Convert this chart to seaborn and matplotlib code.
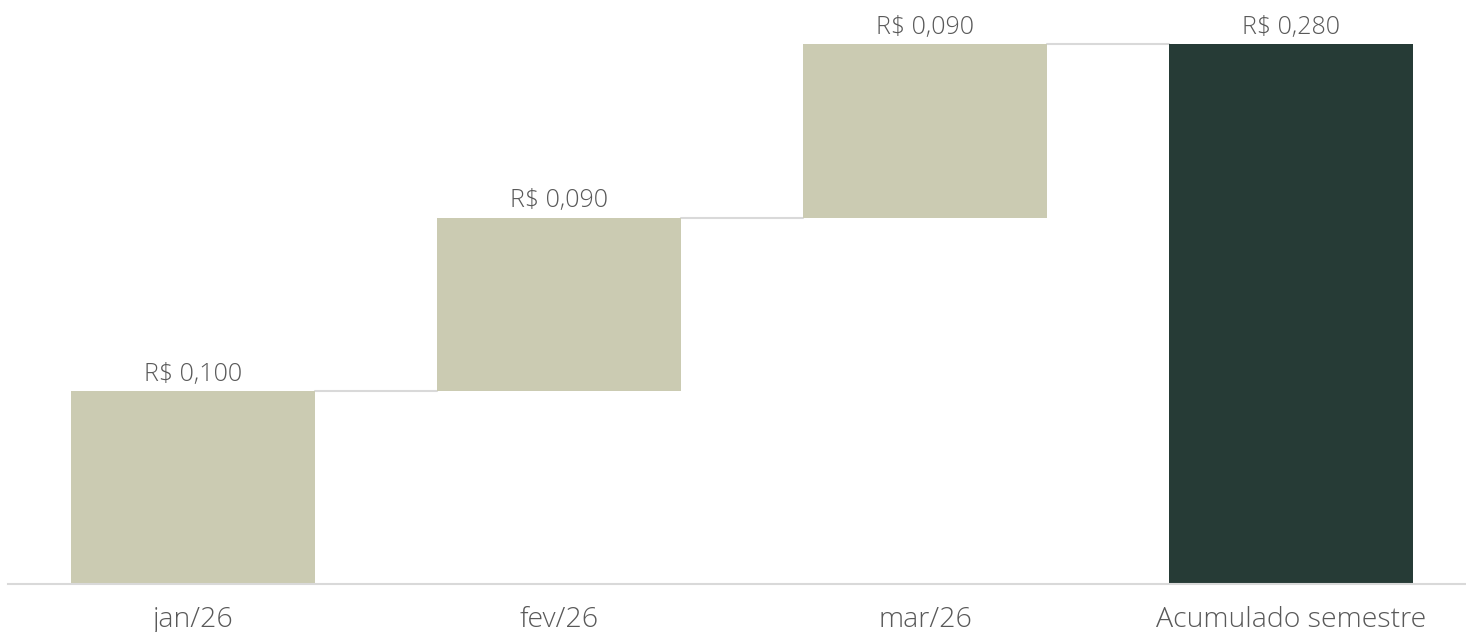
import numpy as np
import pandas as pd
import matplotlib
matplotlib.use('Agg')
import matplotlib.pyplot as plt
import seaborn as sns

# dados
categorias = ['jan/26', 'fev/26', 'mar/26', 'Acumulado semestre']
valores = [0.100, 0.090, 0.090]
total = sum(valores)

sns.set_style('white')
plt.rcParams['font.family'] = ['Open Sans', 'DejaVu Sans']

alturas = valores + [total]
bases = list(np.concatenate([[0], np.cumsum(valores)[:-1]])) + [0]
topos = [b + h for b, h in zip(bases, alturas)]

df = pd.DataFrame({'cat': categorias, 'valor': alturas})

cor_claro = '#CBCBB2'
cor_escuro = '#263B36'
cor_texto = '#595959'
cor_linha = '#D9D9D9'

fig = plt.figure(figsize=(14.66, 6.32), dpi=100)
ax = fig.add_axes([8 / 1466, 48 / 632, 1458 / 1466, 578.6 / 632])

sns.barplot(data=df, x='cat', y='valor', ax=ax, width=0.667,
            palette=[cor_claro] * 3 + [cor_escuro], hue='cat', legend=False,
            saturation=1, errorbar=None, linewidth=0)

# desloca as barras para formar a cascata
for p, b in zip(ax.patches, bases):
    p.set_y(b)

# rótulos
for i, (t, h) in enumerate(zip(topos, alturas)):
    rot = f'R$ {h:.3f}'.replace('.', ',')
    ax.annotate(rot, (i, t), xytext=(0, 3), textcoords='offset points',
                ha='center', va='bottom', fontsize=18, color=cor_texto,
                fontweight='light')

# conectores
larg = 0.667
for i in range(len(topos) - 1):
    ax.plot([i + larg / 2, i + 1 - larg / 2], [topos[i], topos[i]],
            color=cor_linha, lw=1.5, zorder=0)

ax.set_xlim(-0.505, 3.478)
ax.set_ylim(0, 0.30)
ax.set_xlabel('')
ax.set_ylabel('')
ax.set_yticks([])
ax.tick_params(axis='x', length=0, pad=16, labelsize=20.5, labelcolor=cor_texto)
for lab in ax.get_xticklabels():
    lab.set_fontweight('light')
sns.despine(ax=ax, left=True)
ax.spines['bottom'].set_color(cor_linha)
ax.spines['bottom'].set_linewidth(1.5)

fig.savefig('out.png', dpi=100)
